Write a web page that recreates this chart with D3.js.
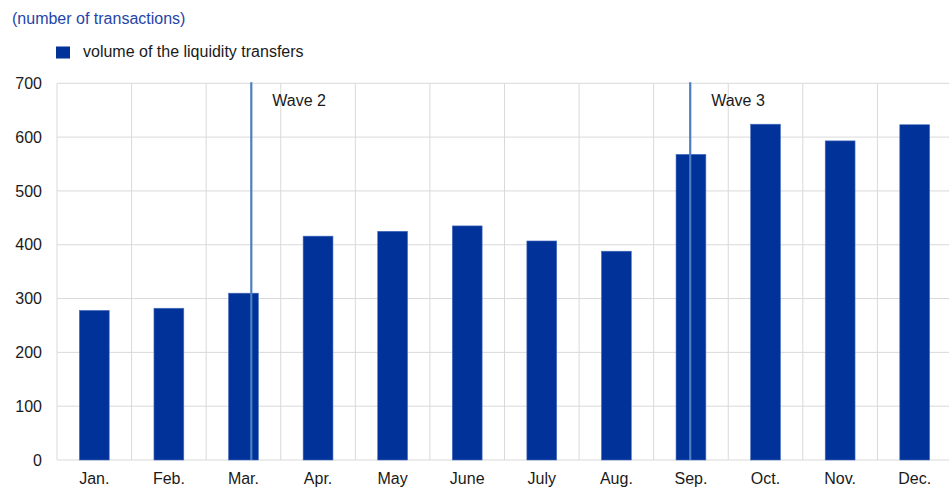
<!DOCTYPE html>
<html><head><meta charset="utf-8">
<script src="https://cdn.jsdelivr.net/npm/d3@7"></script>
<style>body{margin:0;background:#fff}svg{display:block;font-family:"Liberation Sans",Arial,sans-serif}</style>
</head><body>
<script>
const months = ["Jan.","Feb.","Mar.","Apr.","May","June","July","Aug.","Sep.","Oct.","Nov.","Dec."];
const volumes = [278,282,310,416,425,435,407,388,568,624,593,623];
const yTicks = [0,100,200,300,400,500,600,700];
const waveLabels = ["Wave 2","Wave 3"];
const wavePositions = [2.605, 8.49]; // position in month units from start of Jan.

const W = 949, H = 502;
const m = {left:57, right:-3, top:83.3, bottom:42};
const FS = 16;
const svg = d3.select("body").append("svg").attr("width",W).attr("height",H);
const x = d3.scaleBand().domain(months).range([m.left, W - m.right]).paddingInner(0).paddingOuter(0);
const xl = d3.scaleLinear().domain([0,12]).range([m.left, W - m.right]);
const y = d3.scaleLinear().domain([0,700]).range([H - m.bottom, m.top]);

// grid
const g = svg.append("g");
g.selectAll("line.h").data(yTicks).join("line")
  .attr("x1", m.left).attr("x2", W - m.right)
  .attr("y1", d=>y(d)).attr("y2", d=>y(d))
  .attr("stroke","#d9d9d9").attr("stroke-width",1);
g.selectAll("line.v").data(months).join("line")
  .attr("x1", d=>x(d)).attr("x2", d=>x(d))
  .attr("y1", y(700)).attr("y2", y(0))
  .attr("stroke","#d9d9d9").attr("stroke-width",1);

// bars
const bw = x.bandwidth()*0.4;
svg.selectAll("rect.bar").data(volumes).join("rect")
  .attr("x",(d,i)=>x(months[i]) + x.bandwidth()/2 - bw/2)
  .attr("width", bw)
  .attr("y", d=>y(d)).attr("height", d=>y(0)-y(d))
  .attr("fill","#003299").attr("stroke","#4a6fc0").attr("stroke-width",0.6);

// wave lines
svg.selectAll("line.wave").data(wavePositions).join("line")
  .attr("x1", d=>xl(d)).attr("x2", d=>xl(d))
  .attr("y1", y(700)-1).attr("y2", y(0))
  .attr("stroke","#4d7fc0").attr("stroke-width",2.2);
svg.selectAll("text.wave").data(waveLabels).join("text")
  .attr("x",(d,i)=>xl(wavePositions[i]) + 21)
  .attr("y", y(700)+23)
  .attr("font-size",FS).attr("fill","#1a1a1a").text(d=>d);

// y axis labels
const ya = d3.axisLeft(y).tickValues(yTicks).tickSize(0).tickPadding(15);
const yg = svg.append("g").attr("transform",`translate(${m.left},0)`).call(ya);
yg.select(".domain").remove();
yg.selectAll("text").attr("font-size",FS).attr("fill","#1a1a1a").attr("font-family","Liberation Sans, Arial, sans-serif");

// x axis labels
const xa = d3.axisBottom(x).tickSize(0).tickPadding(13);
const xg = svg.append("g").attr("transform",`translate(0,${y(0)})`).call(xa);
xg.select(".domain").remove();
xg.selectAll("text").attr("font-size",FS).attr("fill","#1a1a1a").attr("font-family","Liberation Sans, Arial, sans-serif");

// title
svg.append("text").attr("x",12).attr("y",24).attr("font-size",FS).attr("fill","#1f45a8")
  .text("(number of transactions)");
// legend
svg.append("rect").attr("x",56).attr("y",46.5).attr("width",14).attr("height",12).attr("fill","#003299");
svg.append("text").attr("x",83).attr("y",57).attr("font-size",FS).attr("fill","#1a1a1a")
  .text("volume of the liquidity transfers");
</script>
</body></html>
